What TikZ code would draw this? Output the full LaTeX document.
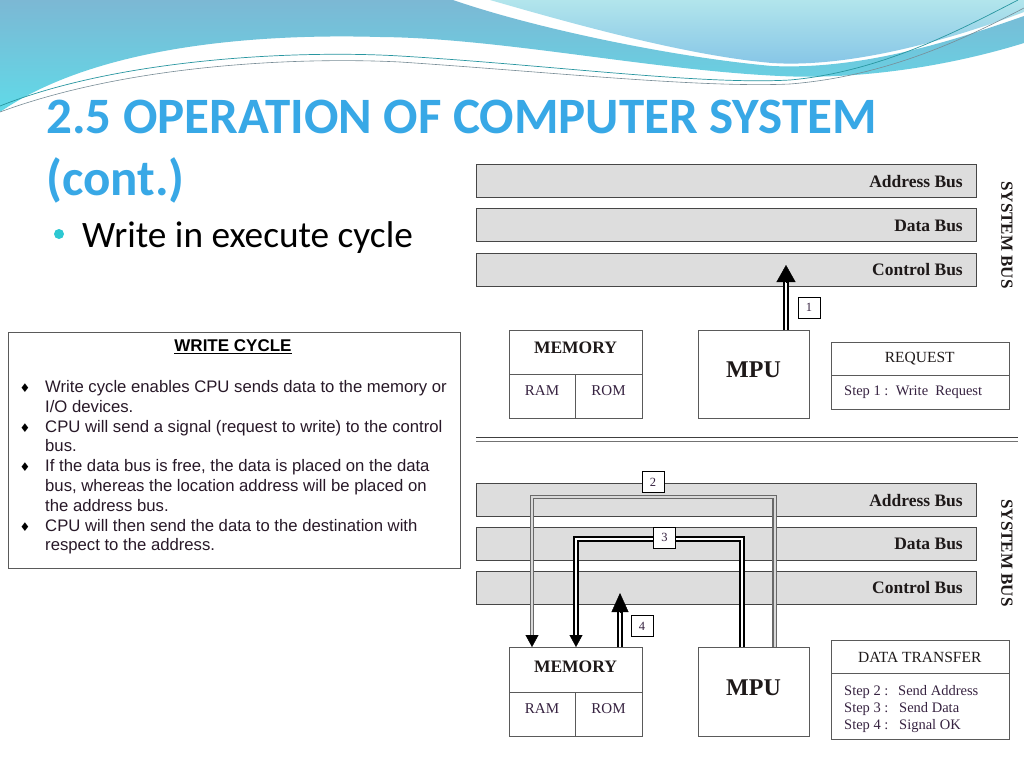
\documentclass[tikz,border=0pt]{standalone}
\usepackage{fontspec}
\usepackage{graphicx}
\setmainfont{Liberation Serif}
\newfontfamily\arialf{Liberation Sans}
\newfontfamily\calib{Carlito}
\newfontfamily\dejavu{DejaVu Sans}
\usetikzlibrary{arrows.meta,calc}
\definecolor{waveA}{RGB}{124,184,212}
\definecolor{waveAb}{RGB}{96,218,232}
\definecolor{waveB}{RGB}{178,229,236}
\definecolor{waveBb}{RGB}{132,196,230}
\definecolor{thinA}{RGB}{40,150,160}
\definecolor{thinB}{RGB}{120,140,150}
\definecolor{titleblue}{RGB}{56,168,230}
\definecolor{dotteal}{RGB}{45,200,210}
\definecolor{bodytext}{RGB}{40,25,40}
\definecolor{boxgray}{RGB}{90,90,90}
\definecolor{busfill}{RGB}{221,221,221}
\definecolor{busline}{RGB}{70,70,70}
\definecolor{diagtext}{RGB}{55,35,65}
\definecolor{boldtext}{RGB}{30,25,25}
\definecolor{pathgray}{RGB}{105,105,105}
\begin{document}
\begin{tikzpicture}[x=1pt,y=-1pt,
  bus/.style={draw=busline, fill=busfill, line width=1.2pt, minimum width=500, minimum height=33, inner sep=0, anchor=north west},
  buslabel/.style={anchor=base east, inner sep=0, text=boldtext, font=\bfseries\fontsize{17.5}{20}\selectfont},
  sysbus/.style={rotate=-90, inner sep=0, text=boldtext, font=\bfseries\fontsize{17}{20}\selectfont},
  cell/.style={draw=boxgray, line width=1.2pt, inner sep=0, anchor=north west},
  boldlbl/.style={anchor=base, inner sep=0, text=boldtext, font=\bfseries\fontsize{17.5}{20}\selectfont},
  mpulbl/.style={anchor=base, inner sep=0, text=boldtext, font=\bfseries\fontsize{24}{28}\selectfont},
  smalllbl/.style={anchor=base, inner sep=0, text=diagtext, font=\fontsize{15}{17}\selectfont},
  steplbl/.style={anchor=base west, inner sep=0, text=diagtext, font=\fontsize{14.5}{17}\selectfont},
  headlbl/.style={anchor=base, inner sep=0, text=boldtext, font=\fontsize{15.5}{17}\selectfont},
  numbox/.style={draw=black, fill=white, line width=0.9pt, minimum width=22, minimum height=21, inner sep=0, font=\fontsize{12.5}{14}\selectfont, text=diagtext},
  dblblack/.style={draw=black, double=white, double distance=2pt, line width=1.6pt},
  dblthick/.style={draw=black, double=white, double distance=1.8pt, line width=2pt},
  dblgray/.style={draw=pathgray, double=white!85!black, double distance=2pt, line width=1.1pt},
  bighead/.style={line width=0.4pt, draw=black, -{Triangle[length=17pt,width=19pt]}},
  midhead/.style={line width=0.4pt, draw=black, -{Triangle[length=19pt,width=17pt]}},
  smallhead/.style={line width=0.4pt, draw=black, -{Triangle[length=12pt,width=13pt]}},
  body/.style={anchor=base west, inner sep=0, text=bodytext, font=\arialf\fontsize{16.7}{19.8}\selectfont},
  diam/.style={anchor=base, inner sep=0, text=black, font=\dejavu\fontsize{12}{12}\selectfont}
]
\useasboundingbox (0,0) rectangle (1024,768);
\fill[white] (0,0) rectangle (1024,768);

% ---------- header waves ----------
\shade[top color=waveB, bottom color=waveBb]
  (490,0) -- (1024,0) -- (1024,12)
  .. controls (950,40) and (850,68) .. (772,63)
  .. controls (690,56) and (580,26) .. (490,0) -- cycle;
\shade[top color=waveA, bottom color=waveAb]
  (0,0) -- (453,0)
  .. controls (540,30) and (680,58) .. (772,66)
  .. controls (860,70) and (950,42) .. (1024,16) -- (1024,43)
  .. controls (950,66) and (860,80) .. (780,76)
  .. controls (650,70) and (500,38) .. (380,37)
  .. controls (240,33) and (90,50) .. (0,112) -- cycle;
\draw[thinA, line width=0.7pt]
  (0,106) .. controls (120,58) and (300,50) .. (400,56)
  .. controls (550,65) and (700,85) .. (790,80)
  .. controls (880,72) and (960,30) .. (1018,0);
\draw[thinB, line width=0.6pt]
  (0,112) .. controls (130,64) and (300,57) .. (400,62)
  .. controls (550,72) and (700,88) .. (790,84)
  .. controls (890,76) and (970,36) .. (1024,8);

% ---------- title ----------
\node[anchor=base west, inner sep=0, text=titleblue, font=\calib\bfseries\fontsize{51}{60}\selectfont] (title1) at (46,133) {2.5 OPERATION OF COMPUTER SYSTEM};
\node[anchor=base west, inner sep=0, text=titleblue, font=\calib\bfseries\fontsize{51}{60}\selectfont] (title2) at (46,195) {(cont.)};
\fill[dotteal] (59,234) circle (5);
\node[anchor=base west, inner sep=0, text=black, font=\calib\fontsize{37.3}{40}\selectfont] (bullet1) at (82,247) {Write in execute cycle};

% ---------- left text box ----------
\node[draw=boxgray, line width=1pt, minimum width=452, minimum height=236, anchor=north west, inner sep=0] (wbox) at (8,332) {};
\node[anchor=base, inner sep=0, text=black, font=\arialf\bfseries\fontsize{17}{20}\selectfont] (wctitle) at (233,351.5) {\underline{WRITE CYCLE}};
\node[diam] (d1) at (25,392.5) {♦};
\node[body] (l1) at (45,392.5) {Write cycle enables CPU sends data to the memory or};
\node[body] (l2) at (45,412.3) {I/O devices.};
\node[diam] (d2) at (25,432.1) {♦};
\node[body] (l3) at (45,432.1) {CPU will send a signal (request to write) to the control};
\node[body] (l4) at (45,451.9) {bus.};
\node[diam] (d3) at (25,471.7) {♦};
\node[body] (l5) at (45,471.7) {If the data bus is free, the data is placed on the data};
\node[body] (l6) at (45,491.5) {bus, whereas the location address will be placed on};
\node[body] (l7) at (45,511.3) {the address bus.};
\node[diam] (d4) at (25,531.1) {♦};
\node[body] (l8) at (45,531.1) {CPU will then send the data to the destination with};
\node[body] (l9) at (45,550.9) {respect to the address.};

% ---------- top diagram ----------
\node[bus] (abA) at (476,164) {};
\node[bus] (dbA) at (476,208) {};
\node[bus] (cbA) at (476,253) {};
\node[buslabel] (abAl) at (963,187) {Address Bus};
\node[buslabel] (dbAl) at (963,231) {Data Bus};
\node[buslabel] (cbAl) at (963,275.5) {Control Bus};
\node[sysbus] (sbA) at (1007,235) {SYSTEM BUS};

\node[cell, minimum width=133, minimum height=44] (memHA) at (509,330) {};
\node[cell, minimum width=66, minimum height=44] (ramA) at (509,374) {};
\node[cell, minimum width=67, minimum height=44] (romA) at (575,374) {};
\node[boldlbl] (memAt) at (575.5,353.3) {MEMORY};
\node[smalllbl] (ramAt) at (542,395) {RAM};
\node[smalllbl] (romAt) at (608.5,395) {ROM};
\node[cell, minimum width=111, minimum height=88] (mpuA) at (698,330) {};
\node[mpulbl] (mpuAt) at (753.5,377) {MPU};
\node[cell, minimum width=178.5, minimum height=33] (reqH) at (830.5,342) {};
\node[cell, minimum width=178.5, minimum height=33.5] (reqB) at (830.5,375) {};
\node[headlbl] (reqHt) at (919.75,362) {REQUEST};
\node[steplbl] (reqBt) at (844,395) {Step 1 :\ \ Write\ \ Request};

\coordinate (a1s) at ($(mpuA.north west)+(88,0)$);
\coordinate (a1b) at ($(a1s)+(0,-48)$);
\coordinate (a1t) at ($(a1s)+(0,-65)$);
\draw[dblblack] (a1s) -- (a1b);
\draw[bighead] (a1b) -- (a1t);
\node[numbox] (n1) at (809,307.5) {1};

% separator
\draw[draw=black!75, line width=1.6pt] (476,437.5) -- (1018,437.5);
\draw[draw=black!55, line width=0.9pt] (476,441.2) -- (1018,441.2);

% ---------- bottom diagram ----------
\node[bus] (abB) at (476,483) {};
\node[bus] (dbB) at (476,527) {};
\node[bus] (cbB) at (476,571) {};
\node[buslabel] (abBl) at (963,506) {Address Bus};
\node[buslabel] (dbBl) at (963,549.5) {Data Bus};
\node[buslabel] (cbBl) at (963,593.5) {Control Bus};
\node[sysbus] (sbB) at (1007,553) {SYSTEM BUS};

\node[cell, minimum width=133, minimum height=45] (memHB) at (509,647) {};
\node[cell, minimum width=66, minimum height=44] (ramB) at (509,692) {};
\node[cell, minimum width=67, minimum height=44] (romB) at (575,692) {};
\node[boldlbl] (memBt) at (575.5,672) {MEMORY};
\node[smalllbl] (ramBt) at (542,713) {RAM};
\node[smalllbl] (romBt) at (608.5,713) {ROM};
\node[cell, minimum width=111, minimum height=89] (mpuB) at (698,647) {};
\node[mpulbl] (mpuBt) at (753.5,695) {MPU};
\node[cell, minimum width=178.5, minimum height=33] (dtH) at (830.5,640) {};
\node[cell, minimum width=178.5, minimum height=66] (dtB) at (830.5,673) {};
\node[headlbl] (dtHt) at (919.75,662) {DATA TRANSFER};
\node[steplbl] (s2) at (844,695) {\makebox[54pt][l]{Step 2 :}Send Address};
\node[steplbl] (s3) at (844,712) {\makebox[55pt][l]{Step 3 :}Send Data};
\node[steplbl] (s4) at (844,729) {\makebox[55pt][l]{Step 4 :}Signal OK};

% step 2: address (gray double line)
\coordinate (p2a) at ($(mpuB.north west)+(76.5,0)$);
\coordinate (p2b) at (p2a |- 0,497);
\coordinate (p2d) at ($(memHB.north west)+(23,0)$);
\coordinate (p2c) at (p2d |- 0,497);
\coordinate (p2e) at ($(p2d)+(0,-11)$);
\draw[dblgray] (p2a) -- (p2b) -- (p2c) -- (p2e);
\draw[smallhead] (p2e) -- (p2d);

% step 3: data (black double line)
\coordinate (p3a) at ($(mpuB.north west)+(44,0)$);
\coordinate (p3b) at (p3a |- 0,539);
\coordinate (p3d) at ($(memHB.north west)+(67,0)$);
\coordinate (p3c) at (p3d |- 0,539);
\coordinate (p3e) at ($(p3d)+(0,-11)$);
\draw[dblthick] (p3a) -- (p3b) -- (p3c) -- (p3e);
\draw[smallhead] (p3e) -- (p3d);

% step 4: signal OK
\coordinate (p4a) at ($(memHB.north west)+(111,0)$);
\coordinate (p4b) at ($(p4a)+(0,-35)$);
\coordinate (p4t) at ($(p4a)+(0,-54)$);
\draw[dblblack] (p4a) -- (p4b);
\draw[midhead] (p4b) -- (p4t);

\node[numbox] (n2) at (653,482) {2};
\node[numbox] (n3) at (664.5,537.5) {3};
\node[numbox] (n4) at (642,626) {4};
\end{tikzpicture}
\end{document}
